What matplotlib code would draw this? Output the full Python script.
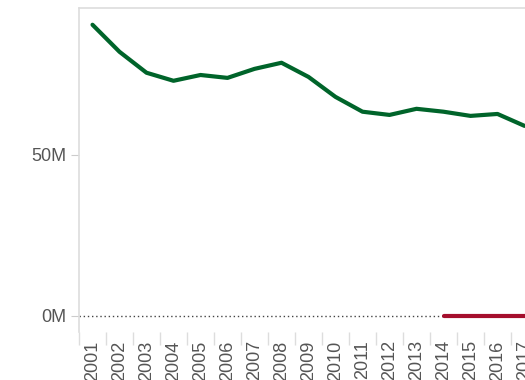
import numpy as np
import matplotlib.pyplot as plt

years = [str(y) for y in range(2001, 2018)]
green_vals = [90.4, 82.0, 75.5, 73.0, 74.8, 73.9, 76.7, 78.6, 74.2, 68.0,
              63.4, 62.4, 64.3, 63.4, 62.1, 62.7, 59.0]
red_years = ['2014', '2015', '2016', '2017']
red_vals = [0, 0, 0, 0]
ytick_vals = [0, 50]
ytick_labels = ['0M', '50M']

plt.rcParams['font.family'] = ['Liberation Sans', 'DejaVu Sans']

fig = plt.figure(figsize=(5.25, 3.8), dpi=100)
ax = fig.add_axes([79/525, 1 - 332/380, 1 - 79/525, (332 - 8)/380])

x = np.arange(len(years))
xr = [years.index(y) for y in red_years]

ax.axhline(0, color='#444444', lw=1, ls=(0, (1, 2)), zorder=1)
ax.plot(x, green_vals, color='#00642a', lw=3, solid_capstyle='round', solid_joinstyle='round', zorder=3)
ax.plot(xr, red_vals, color='#a50f2d', lw=3, solid_capstyle='round', zorder=3)

ax.set_xlim(-0.5, -0.5 + (525 - 79)/27)
ax.set_ylim(-5, 95.6)

ax.set_yticks(ytick_vals)
ax.set_yticklabels(ytick_labels)
ax.set_xticks(x)
ax.set_xticklabels(years, rotation=90)
ax.set_xticks(np.arange(len(years)) - 0.5, minor=True)

ax.tick_params(axis='y', length=6, color='#cccccc', labelcolor='#555555', labelsize=13, pad=3)
ax.tick_params(axis='x', which='major', length=0, labelcolor='#555555', labelsize=13, pad=6)
ax.tick_params(axis='x', which='minor', length=9, color='#dddddd', width=1)

for s in ['right', 'bottom']:
    ax.spines[s].set_visible(False)
for s in ['left', 'top']:
    ax.spines[s].set_color('#dddddd')
    ax.spines[s].set_linewidth(1.2)

fig.savefig('out.png', dpi=100)
